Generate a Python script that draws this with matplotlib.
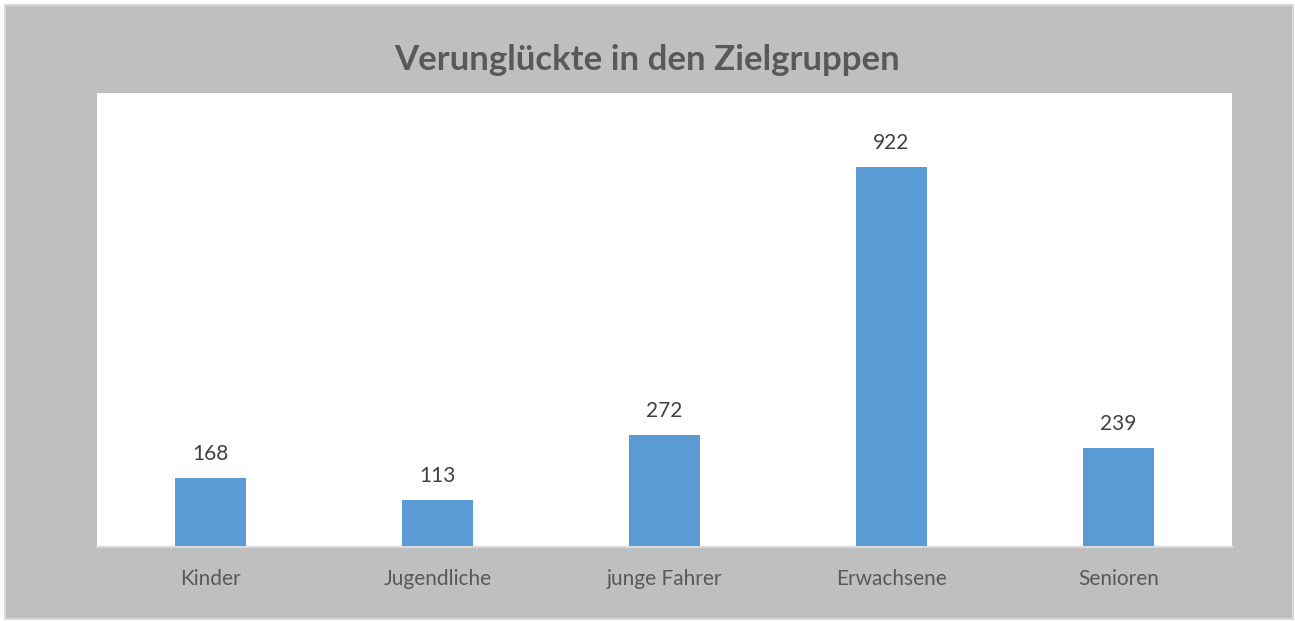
import matplotlib.pyplot as plt
from matplotlib.patches import Rectangle

# 数据
categories = ["Kinder", "Jugendliche", "junge Fahrer", "Erwachsene", "Senioren"]
values = [168, 113, 272, 922, 239]

plt.rcParams['font.family'] = ['Lato', 'DejaVu Sans']

fig = plt.figure(figsize=(12.95, 6.21), dpi=100)
fig.patch.set_facecolor('white')

# 外框 + 灰色背景
fig.patches.append(Rectangle((5 / 1295, 2 / 621), 1288 / 1295, 614 / 621,
                             transform=fig.transFigure, facecolor='#BFBFBF',
                             edgecolor='#D9D9D9', linewidth=1.5, zorder=-1))

ax = fig.add_axes([97 / 1295, 1 - 547 / 621, (1232 - 97) / 1295, (547 - 93) / 621])
ax.set_facecolor('white')

x = range(len(categories))
bars = ax.bar(x, values, width=0.31, color='#5B9BD5', zorder=2)

ax.set_xlim(-0.5, len(categories) - 0.5)
ax.set_ylim(0, 1101)

for xi, v in zip(x, values):
    ax.text(xi, v + 34, str(v), ha='center', va='bottom', fontsize=15, color='#404040')

ax.set_xticks(list(x))
ax.set_xticklabels(categories, fontsize=15, color='#595959')
ax.tick_params(axis='x', length=0, pad=16)
ax.set_yticks([])

for s in ['top', 'left', 'right']:
    ax.spines[s].set_visible(False)
ax.spines['bottom'].set_color('#D9D9D9')
ax.spines['bottom'].set_linewidth(1.5)

fig.text(647 / 1295, 1 - 60 / 621, "Verunglückte in den Zielgruppen", ha='center', va='center',
         fontsize=25, fontweight='bold', color='#595959')

fig.savefig('out.png', dpi=100, facecolor=fig.get_facecolor())
